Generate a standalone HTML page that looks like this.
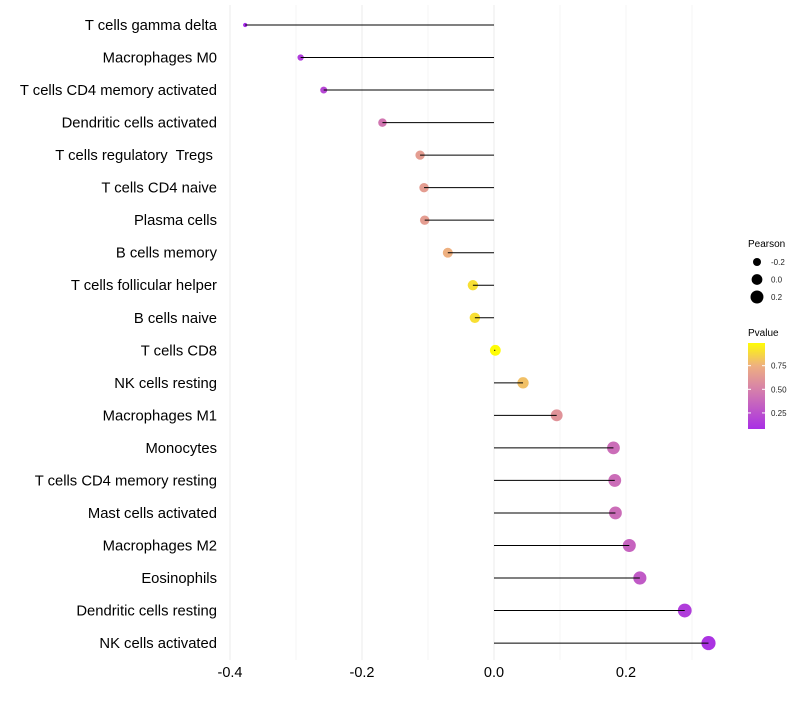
<!DOCTYPE html>
<html><head><meta charset="utf-8"><style>
body{margin:0;background:#fff;font-family:"Liberation Sans",sans-serif}
text{white-space:pre}
</style></head><body>
<svg id="c" width="800" height="700" xmlns="http://www.w3.org/2000/svg"></svg>
<script>
const cells=["T cells gamma delta","Macrophages M0","T cells CD4 memory activated","Dendritic cells activated","T cells regulatory  Tregs ","T cells CD4 naive","Plasma cells","B cells memory","T cells follicular helper","B cells naive","T cells CD8","NK cells resting","Macrophages M1","Monocytes","T cells CD4 memory resting","Mast cells activated","Macrophages M2","Eosinophils","Dendritic cells resting","NK cells activated"];
const pearson=[-0.377,-0.293,-0.258,-0.169,-0.112,-0.106,-0.105,-0.070,-0.032,-0.029,0.002,0.044,0.095,0.181,0.183,0.184,0.205,0.221,0.289,0.325];
const pvalue=[0.05,0.15,0.2,0.45,0.65,0.65,0.65,0.75,0.9,0.9,0.99,0.8,0.6,0.4,0.4,0.4,0.35,0.3,0.15,0.1];
const xTicks=[-0.4,-0.2,0.0,0.2];
const xTickLabels=["-0.4","-0.2","0.0","0.2"];
const sizeKeys=[-0.2,0.0,0.2];
const pTicks=[0.25,0.5,0.75];

const svg=document.getElementById('c');const NS="http://www.w3.org/2000/svg";
function mk(t,a,p){const e=document.createElementNS(NS,t);for(const k in a)e.setAttribute(k,a[k]);(p||svg).appendChild(e);return e;}
const x=v=>494+v*660;
const y=i=>25+i*32.53;
const r=v=>Math.sqrt(Math.max(4,29+65*v));
const stops=[[0,[160,32,240]],[0.5,[214,128,170]],[0.75,[238,176,128]],[1,[255,255,0]]];
function col(p){for(let i=1;i<stops.length;i++){if(p<=stops[i][0]){const a=stops[i-1],b=stops[i],t=(p-a[0])/(b[0]-a[0]);return 'rgb('+a[1].map((c,j)=>Math.round(c+(b[1][j]-c)*t)).join(',')+')';}}return 'rgb(255,255,0)';}
const pbY=v=>429-(v-0.08)/(0.99-0.08)*86;

for(let v=-0.4;v<=0.31;v+=0.1){const g=mk('line',{x1:x(v),x2:x(v),y1:5,y2:660,stroke:'#ebebeb','stroke-width':Math.abs((v*10)%2)<0.01?1:0.5});
}
xTicks.forEach((v,i)=>{const t=mk('text',{x:x(v),y:677,'text-anchor':'middle','font-size':14.5,fill:'#000'});t.textContent=xTickLabels[i];
});
cells.forEach((c,i)=>{
const t=mk('text',{x:217,y:y(i)+5,'text-anchor':'end','font-size':14.8,fill:'#000'});t.textContent=c;

const d=mk('circle',{cx:x(pearson[i]),cy:y(i),r:r(pearson[i]),fill:col(pvalue[i])});

const l=mk('line',{x1:x(0),x2:x(pearson[i]),y1:y(i),y2:y(i),stroke:'#000','stroke-width':1});

});
let t=mk('text',{x:748,y:247,'font-size':10,fill:'#000'});t.textContent='Pearson';

sizeKeys.forEach((v,i)=>{const cy=262+i*17.5;const d=mk('circle',{cx:757,cy:cy,r:r(v),fill:'#000'});

const tt=mk('text',{x:771,y:cy+3,'font-size':8,fill:'#222'});tt.textContent=v.toFixed(1);
});
t=mk('text',{x:748,y:336,'font-size':10,fill:'#000'});t.textContent='Pvalue';

const defs=mk('defs',{});const lg=mk('linearGradient',{id:'pg',x1:0,y1:1,x2:0,y2:0},defs);
[0.08,0.3,0.5,0.75,0.99].forEach(p=>mk('stop',{offset:(p-0.08)/0.91,'stop-color':col(p)},lg));
const cb=mk('rect',{x:748,y:343,width:17,height:86,fill:'url(#pg)'});

pTicks.forEach(p=>{const yy=pbY(p);mk('line',{x1:748,x2:751,y1:yy,y2:yy,stroke:'#fff'});mk('line',{x1:762,x2:765,y1:yy,y2:yy,stroke:'#fff'});
const tt=mk('text',{x:771,y:yy+3,'font-size':8,fill:'#222'});tt.textContent=p.toFixed(2);
});
</script>
</body></html>
